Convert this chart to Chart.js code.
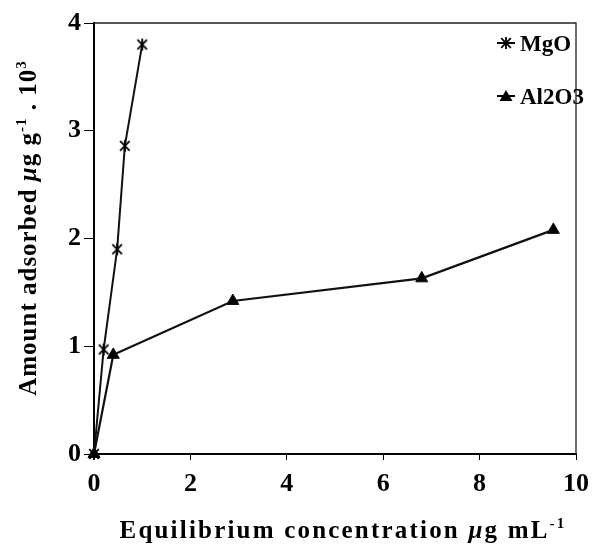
<!DOCTYPE html>
<html>
<head>
<meta charset="utf-8">
<script src="https://cdn.jsdelivr.net/npm/chart.js@4.4.1/dist/chart.umd.min.js"></script>
<style>
    html, body { margin: 0; padding: 0; background: #fff; }
</style>
</head>
<body>
<canvas id="chart" width="598" height="544"></canvas>
<script>

// Data (x: ug/mL, y: ug/g . 10^3)
const seriesNames = ['MgO', 'Al2O3'];
const mgoConc = [0, 0.2, 0.48, 0.64, 1.0];
const mgoAmount = [0, 0.97, 1.9, 2.86, 3.8];
const aluConc = [0, 0.4, 2.88, 6.8, 9.53];
const aluAmount = [0, 0.92, 1.42, 1.63, 2.08];

const xTickValues = [0, 2, 4, 6, 8, 10];
const yTickValues = [0, 1, 2, 3, 4];

const FONT = '"Liberation Serif", "Times New Roman", serif';

// Excel style star marker: an x with a vertical bar through it
function makeStar(size) {
    var c = document.createElement('canvas');
    c.width = size;
    c.height = size;
    var g = c.getContext('2d');
    var m = size / 2, r = size / 2 - 1;
    g.strokeStyle = '#000';
    g.lineWidth = 1.8;
    g.beginPath();
    g.moveTo(m, m - r); g.lineTo(m, m + r);
    g.moveTo(m - r * 0.8, m - r * 0.8); g.lineTo(m + r * 0.8, m + r * 0.8);
    g.moveTo(m + r * 0.8, m - r * 0.8); g.lineTo(m - r * 0.8, m + r * 0.8);
    g.stroke();
    return c;
}
const starMarker = makeStar(14);

function toPoints(xs, ys) {
    return xs.map((x, i) => ({ x: x, y: ys[i] }));
}

// draw a list of text runs (normal / italic / superscript) in one line
function drawRuns(ctx, runs, x, y, size, spacing) {
    function fontFor(r) {
        var s = r.sup ? Math.round(size * 0.6) : size;
        return (r.italic ? 'italic ' : '') + 'bold ' + s + 'px ' + FONT;
    }
    ctx.letterSpacing = spacing + 'px';
    var total = 0;
    runs.forEach(r => {
        ctx.font = fontFor(r);
        r.w = ctx.measureText(r.t).width;
        total += r.w;
    });
    var cx = x - total / 2;
    runs.forEach(r => {
        ctx.font = fontFor(r);
        ctx.fillText(r.t, cx, r.sup ? y - size * 0.42 : y);
        cx += r.w;
    });
}

const xTitleRuns = [
    { t: 'Equilibrium concentration ' },
    { t: '\u03bc', italic: true },
    { t: 'g mL' },
    { t: '-1', sup: true }
];
const yTitleRuns = [
    { t: 'Amount adsorbed ' },
    { t: '\u03bc', italic: true },
    { t: 'g g' },
    { t: '-1', sup: true },
    { t: ' . 10' },
    { t: '3', sup: true }
];

const decorPlugin = {
    id: 'decor',
    afterDraw(chart) {
        const ctx = chart.ctx;
        const a = chart.chartArea;
        ctx.save();

        // thin frame on top and right
        ctx.strokeStyle = '#222';
        ctx.lineWidth = 1.3;
        ctx.beginPath();
        ctx.moveTo(a.left, a.top);
        ctx.lineTo(a.right, a.top);
        ctx.lineTo(a.right, a.bottom);
        ctx.stroke();

        ctx.fillStyle = '#000';
        ctx.textBaseline = 'alphabetic';

        // axis titles
        drawRuns(ctx, xTitleRuns, 343, 538, 25, 2.2);
        ctx.save();
        ctx.translate(36, 228);
        ctx.rotate(-Math.PI / 2);
        drawRuns(ctx, yTitleRuns, 0, 0, 25, 1);
        ctx.restore();

        // legend inside the plot, top right
        ctx.letterSpacing = '0px';
        ctx.font = 'bold 23px ' + FONT;
        ctx.textAlign = 'left';
        const rows = [{ y: 43, name: seriesNames[0] }, { y: 96, name: seriesNames[1] }];
        rows.forEach((row, i) => {
            ctx.strokeStyle = '#000';
            ctx.lineWidth = 2;
            ctx.beginPath();
            ctx.moveTo(497, row.y);
            ctx.lineTo(515, row.y);
            ctx.stroke();
            if (i === 0) {
                ctx.drawImage(starMarker, 506 - 7, row.y - 7);
            } else {
                ctx.beginPath();
                ctx.moveTo(506, row.y - 6);
                ctx.lineTo(512.5, row.y + 5);
                ctx.lineTo(499.5, row.y + 5);
                ctx.closePath();
                ctx.fill();
            }
            ctx.fillText(row.name, 520, row.y + 8);
        });

        ctx.restore();
    }
};

var ctx = document.getElementById('chart').getContext('2d');

var chart = new Chart(ctx, {
    type: 'line',
    data: {
        datasets: [{
            label: seriesNames[0],
            data: toPoints(mgoConc, mgoAmount),
            borderColor: '#111',
            borderWidth: 2,
            pointStyle: starMarker,
            pointRadius: 7,
            clip: false
        }, {
            label: seriesNames[1],
            data: toPoints(aluConc, aluAmount),
            borderColor: '#111',
            backgroundColor: '#000',
            borderWidth: 2.2,
            pointStyle: 'triangle',
            pointRadius: 7,
            pointBorderWidth: 1,
            clip: false
        }]
    },
    options: {
        responsive: false,
        animation: false,
        layout: { padding: { top: 23, right: 16, left: 0, bottom: 0 } },
        plugins: {
            legend: { display: false },
            tooltip: { enabled: false }
        },
        scales: {
            x: {
                type: 'linear',
                min: 0,
                max: 10,
                afterBuildTicks: s => { s.ticks = xTickValues.map(v => ({ value: v })); },
                ticks: {
                    color: '#000',
                    padding: 9,
                    font: { family: FONT, size: 26, weight: 'bold' }
                },
                grid: { drawOnChartArea: false, tickLength: 6, color: '#000', lineWidth: 1 },
                border: { color: '#000', width: 2 },
                afterFit: s => { s.height = 90; }
            },
            y: {
                type: 'linear',
                min: 0,
                max: 4,
                afterBuildTicks: s => { s.ticks = yTickValues.map(v => ({ value: v })); },
                ticks: {
                    color: '#000',
                    padding: 3,
                    font: { family: FONT, size: 26, weight: 'bold' }
                },
                grid: { drawOnChartArea: false, tickLength: 10, color: '#000', lineWidth: 1 },
                border: { color: '#000', width: 2 },
                afterFit: s => { s.width = 94; }
            }
        }
    },
    plugins: [decorPlugin]
});
</script>
</body>
</html>
